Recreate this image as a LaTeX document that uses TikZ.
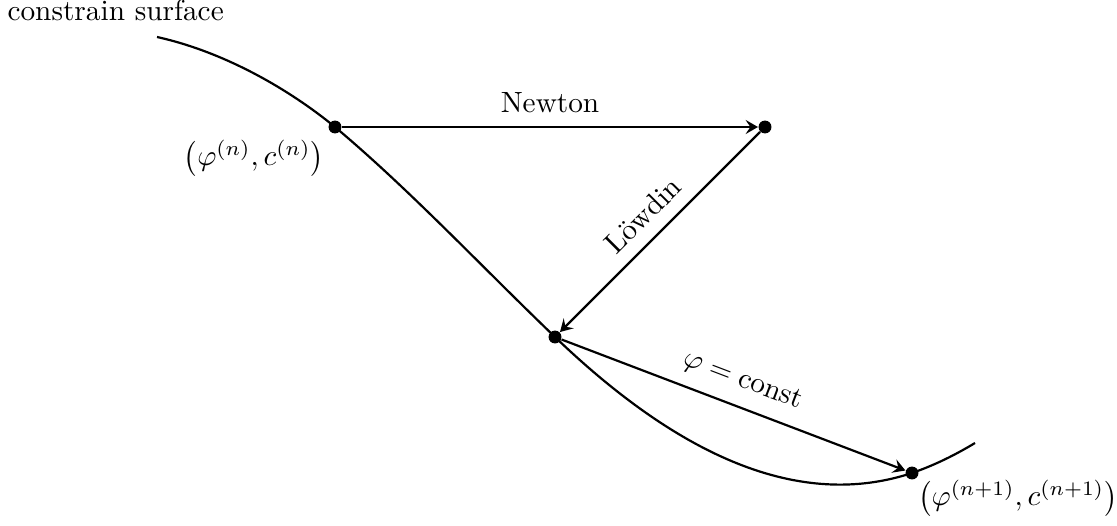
\documentclass[tikz,border=0pt]{standalone}
\usetikzlibrary{arrows.meta}
\begin{document}
\begin{tikzpicture}[x=0.3413pt,y=-0.3413pt,
  dot/.style={circle,fill=black,inner sep=0pt,minimum size=4.4pt},
  conn/.style={line width=0.75pt,-{Stealth[length=4.2pt,width=4.8pt,inset=1.6pt]}},
  surf/.style={line width=0.75pt}]
\useasboundingbox (0,0) rectangle (1117,525);
\draw[surf] (157,37) .. controls (225,52) and (290,90) .. (335,127)
  .. controls (410,190) and (480,265) .. (555,337)
  .. controls (680,457) and (800,510) .. (912,473)
  .. controls (935,465) and (955,455) .. (975,443);
\node[dot] (P1) at (335,127) {};
\node[dot] (N) at (765,127) {};
\node[dot] (P2) at (555,337) {};
\node[dot] (P3) at (912,473) {};
\node[anchor=base west,inner sep=0pt] (cs) at (7,21) {constrain surface};
\node (L1) at (254,158) {$\bigl(\varphi^{(n)},c^{(n)}\bigr)$};
\node (L3) at (1018,498) {$\bigl(\varphi^{(n+1)},c^{(n+1)}\bigr)$};
\draw[conn] (P1) -- node[midway,above=1pt] {Newton} (N);
\draw[conn] (N) -- node[midway,sloped,above=1pt] {Löwdin} (P2);
\draw[conn] (P2) -- node[midway,sloped,above=1pt] {$\varphi=\mathrm{const}$} (P3);
\end{tikzpicture}
\end{document}
